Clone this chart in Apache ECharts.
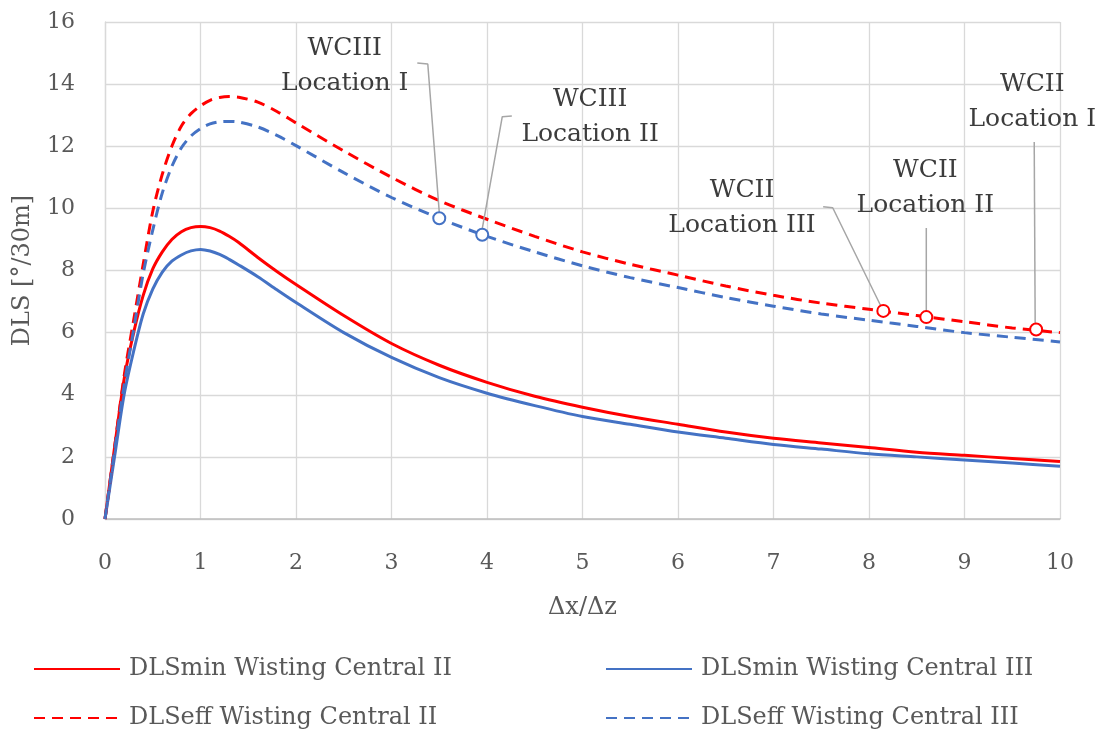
<!DOCTYPE html>
<html>
<head>
<meta charset="utf-8">
<title>DLS vs dx/dz</title>
<script src="https://cdn.jsdelivr.net/npm/echarts@6/dist/echarts.min.js"></script>
<style>
  html, body { margin: 0; padding: 0; background: #fff; }
  #chart { width: 1106px; height: 735px; }
</style>
</head>
<body>
<div id="chart"></div>
<script>
// x positions (Δx/Δz) the curves were read at
const xs = [0, 0.1, 0.2, 0.3, 0.4, 0.5, 0.6, 0.7, 0.8, 0.9, 1.0, 1.1, 1.2, 1.3, 1.4, 1.6, 1.8, 2.0,
  2.5, 3, 3.5, 4, 4.5, 5, 5.5, 6, 6.5, 7, 7.5, 8, 8.5, 9, 9.5, 10];

// DLS [°/30m]
const dlsMinWC2 = [0, 2.3, 4.5, 6.0, 7.2, 8.05, 8.6, 9.0, 9.25, 9.38, 9.42, 9.38, 9.27, 9.1, 8.9, 8.42, 7.97, 7.55,
  6.55, 5.65, 4.95, 4.4, 3.95, 3.6, 3.3, 3.05, 2.8, 2.6, 2.45, 2.3, 2.15, 2.05, 1.95, 1.85];
const dlsMinWC3 = [0, 2.0, 4.0, 5.4, 6.6, 7.4, 7.95, 8.3, 8.5, 8.63, 8.68, 8.63, 8.52, 8.36, 8.18, 7.8, 7.38, 6.97,
  6.0, 5.2, 4.55, 4.05, 3.65, 3.3, 3.05, 2.8, 2.6, 2.4, 2.25, 2.1, 2.0, 1.9, 1.8, 1.7];
const dlsEffWC2 = [0, 2.3, 4.6, 6.4, 8.2, 9.9, 11.1, 12.0, 12.65, 13.05, 13.3, 13.48, 13.57, 13.6, 13.58, 13.42, 13.12, 12.75,
  11.85, 11.0, 10.25, 9.65, 9.1, 8.6, 8.2, 7.85, 7.5, 7.2, 6.95, 6.75, 6.55, 6.35, 6.15, 6.0];
const dlsEffWC3 = [0, 2.2, 4.3, 6.1, 7.9, 9.3, 10.5, 11.35, 11.95, 12.33, 12.57, 12.72, 12.79, 12.8, 12.78, 12.62, 12.35, 12.02,
  11.15, 10.35, 9.68, 9.1, 8.6, 8.15, 7.77, 7.45, 7.13, 6.85, 6.6, 6.4, 6.2, 6.0, 5.85, 5.7];

// well locations on the DLSeff curves
const wc3LocX = [3.5, 3.95];
const wc3LocY = [9.68, 9.15];
const wc2LocX = [8.15, 8.6, 9.75];
const wc2LocY = [6.7, 6.5, 6.1];

// annotation texts and where they sit (data units)
const noteText = ['WCIII\nLocation I', 'WCIII\nLocation II', 'WCII\nLocation III', 'WCII\nLocation II', 'WCII\nLocation I'];
const noteX = [2.51, 5.08, 6.67, 8.59, 9.71];
const noteY = [14.58, 12.94, 10.01, 10.66, 13.43];

// leader lines from the texts down to the markers
const leaders = [
  [[3.27, 14.68], [3.38, 14.65], [3.5, 9.88]],
  [[4.26, 12.97], [4.16, 12.95], [3.95, 9.34]],
  [[7.52, 10.05], [7.62, 10.02], [8.12, 6.88]],
  [[8.6, 9.37], [8.6, 6.7]],
  [[9.73, 12.14], [9.74, 6.3]]
];

const xTicks = [0, 10, 1];
const yTicks = [0, 16, 2];

const RED = '#ff0000';
const BLUE = '#4472c4';
const FONT = 'DejaVu Serif';
const TXT = '#595959';

const pairs = ys => xs.map((x, i) => [x, ys[i]]);

const chart = echarts.init(document.getElementById('chart'));

const curve = (name, ys, color, dashed) => ({
  name: name,
  type: 'line',
  data: pairs(ys),
  smooth: 0.3,
  symbol: 'none',
  lineStyle: { color: color, width: 3, type: dashed ? [11, 7] : 'solid' },
  itemStyle: { color: color },
  z: 3
});

const legendItem = (name, left, top) => ({
  data: [name],
  left: left,
  top: top,
  itemWidth: 86,
  itemHeight: 14,
  itemGap: 0,
  itemStyle: { color: 'rgba(0,0,0,0)', borderWidth: 0 },
  textStyle: { fontFamily: FONT, fontSize: 24, color: TXT, padding: [0, 0, 0, 4] }
});

const series = [
  curve('DLSmin Wisting Central II', dlsMinWC2, RED, false),
  curve('DLSmin Wisting Central III', dlsMinWC3, BLUE, false),
  curve('DLSeff Wisting Central II', dlsEffWC2, RED, true),
  curve('DLSeff Wisting Central III', dlsEffWC3, BLUE, true)
];

leaders.forEach(pts => {
  series.push({
    type: 'line',
    data: pts,
    symbol: 'none',
    silent: true,
    lineStyle: { color: '#a6a6a6', width: 1.5 },
    z: 4
  });
});

const marker = (xsM, ysM, color) => ({
  type: 'scatter',
  data: xsM.map((x, i) => [x, ysM[i]]),
  symbol: 'circle',
  symbolSize: 12,
  itemStyle: { color: '#fff', borderColor: color, borderWidth: 2, opacity: 1 },
  silent: true,
  z: 5
});
series.push(marker(wc3LocX, wc3LocY, BLUE));
series.push(marker(wc2LocX, wc2LocY, RED));

series.push({
  type: 'scatter',
  data: noteText.map((t, i) => ({ name: t, value: [noteX[i], noteY[i]] })),
  symbolSize: 0,
  silent: true,
  itemStyle: { opacity: 1 },
  label: {
    show: true,
    position: 'inside',
    formatter: p => p.name,
    fontFamily: FONT,
    fontSize: 25,
    lineHeight: 35,
    color: '#3c3c3c',
    align: 'center'
  },
  z: 6
});

chart.setOption({
  backgroundColor: '#fff',
  animation: false,
  grid: { left: 105, right: 46, top: 22, bottom: 216 },
  legend: [
    legendItem('DLSmin Wisting Central II', 28, 652),
    legendItem('DLSmin Wisting Central III', 600, 652),
    legendItem('DLSeff Wisting Central II', 28, 701),
    legendItem('DLSeff Wisting Central III', 600, 701)
  ],
  xAxis: {
    type: 'value',
    min: xTicks[0],
    max: xTicks[1],
    interval: xTicks[2],
    name: 'Δx/Δz',
    nameLocation: 'middle',
    nameGap: 77,
    nameTextStyle: { fontFamily: FONT, fontSize: 24, color: TXT },
    axisLine: { show: true, lineStyle: { color: '#bfbfbf', width: 1.5 } },
    axisTick: { show: false },
    axisLabel: { margin: 33, fontFamily: FONT, fontSize: 22, color: TXT },
    splitLine: { show: true, lineStyle: { color: '#d9d9d9', width: 1.3 } }
  },
  yAxis: {
    type: 'value',
    min: yTicks[0],
    max: yTicks[1],
    interval: yTicks[2],
    name: 'DLS [°/30m]',
    nameLocation: 'middle',
    nameGap: 70,
    nameTextStyle: { fontFamily: FONT, fontSize: 24, color: TXT },
    axisLine: { show: true, lineStyle: { color: '#d9d9d9', width: 1.3 } },
    axisTick: { show: false },
    axisLabel: { show: true, inside: false, margin: 30, fontFamily: FONT, fontSize: 22, color: TXT },
    splitLine: { show: true, lineStyle: { color: '#d9d9d9', width: 1.3 } }
  },
  series: series
});
</script>
</body>
</html>
